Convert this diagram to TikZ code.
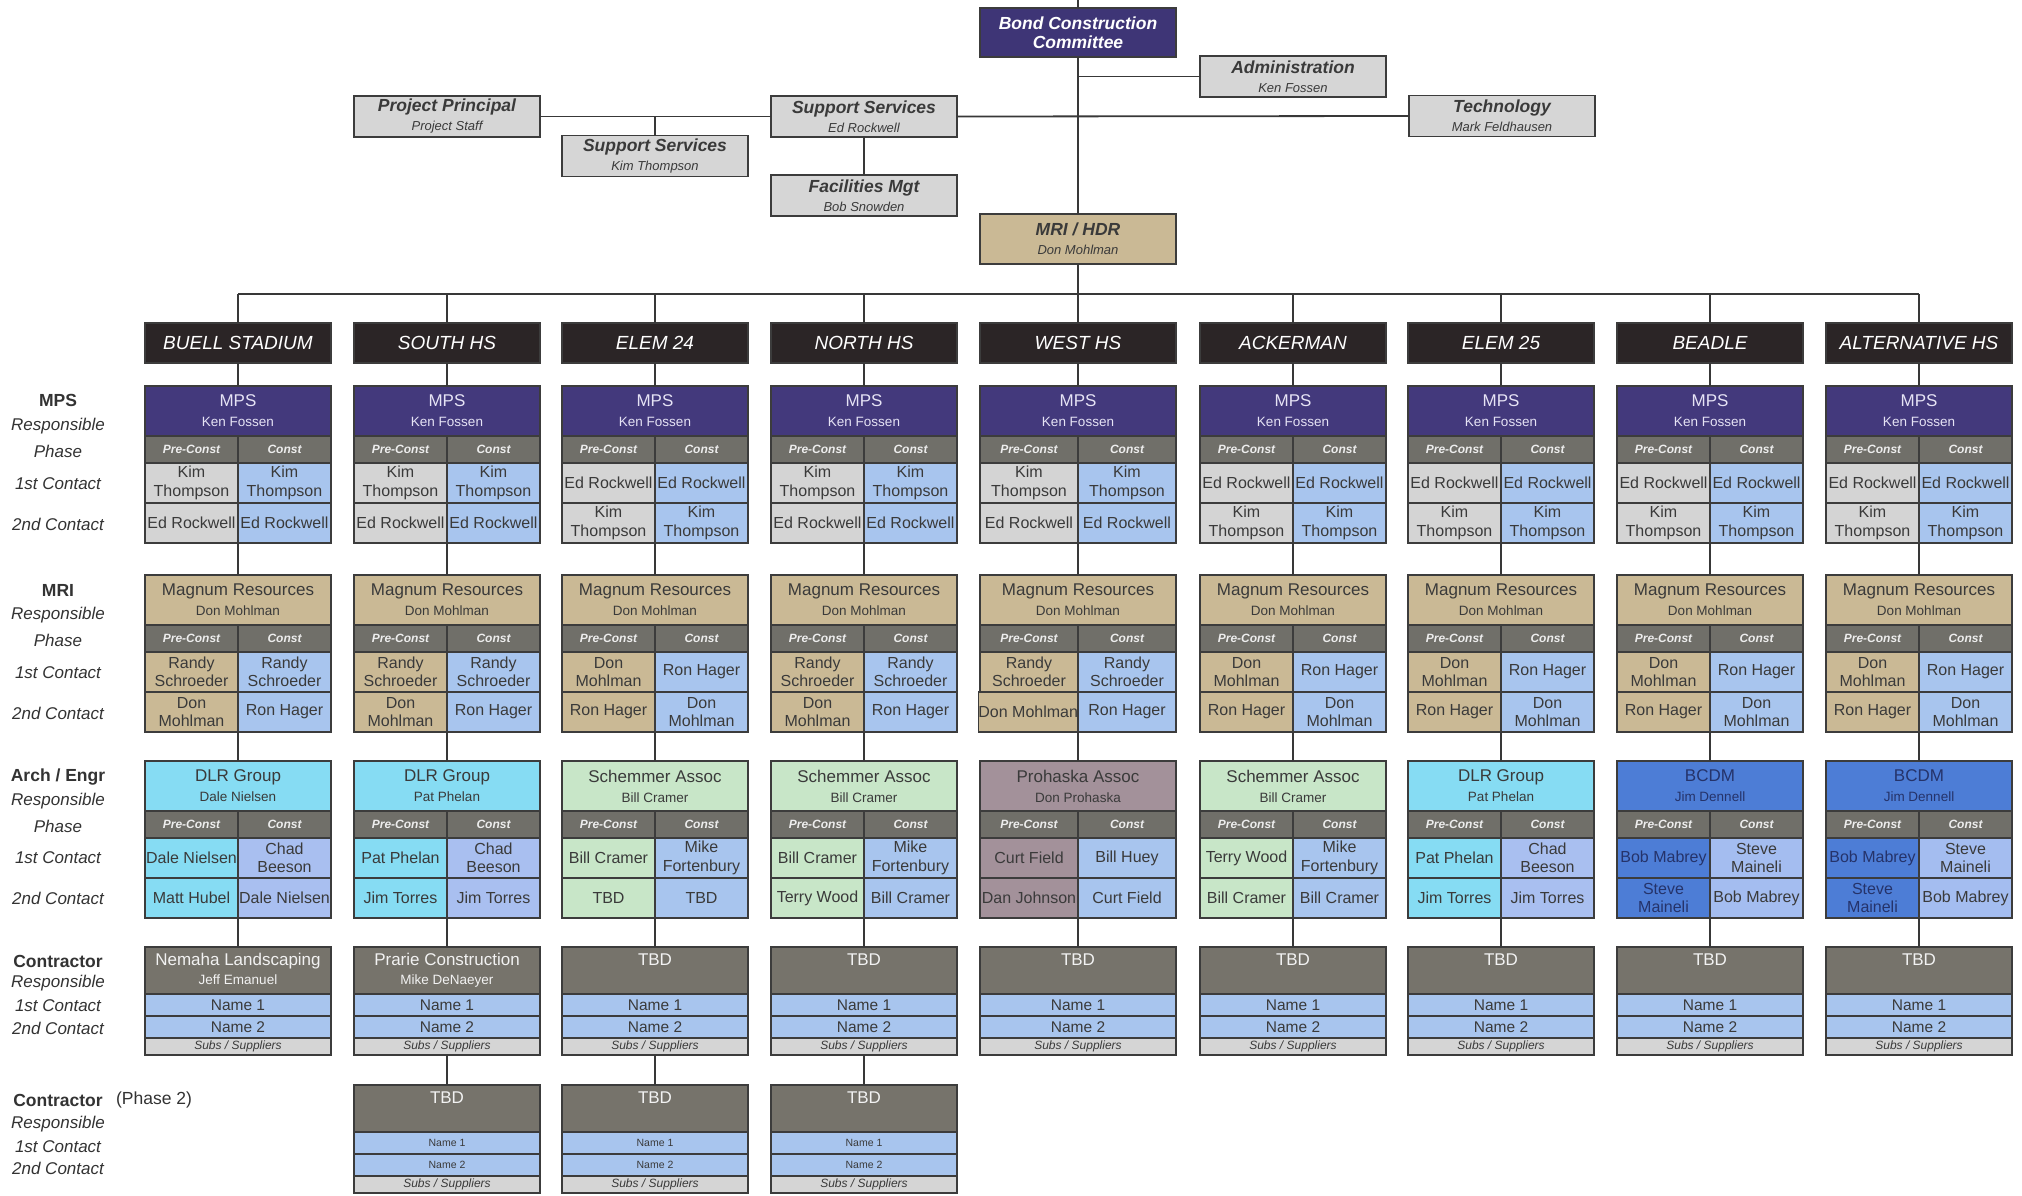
\documentclass[tikz,border=0pt]{standalone}
\usepackage{fontspec}
\setmainfont{Liberation Sans}
\usetikzlibrary{positioning}
\definecolor{CellLine}{HTML}{3C3C3C}
\definecolor{LinkGray}{HTML}{383838}
\definecolor{NameText}{HTML}{3A3A3A}
\definecolor{LabelText}{HTML}{333333}
\definecolor{TopText}{HTML}{3A3A3A}
\definecolor{BondPurple}{HTML}{3E3576}
\definecolor{MpsPurple}{HTML}{43397C}
\definecolor{MpsText}{HTML}{E6E3F5}
\definecolor{BoxGray}{HTML}{D6D6D6}
\definecolor{TanFill}{HTML}{CAB995}
\definecolor{HeaderBlack}{HTML}{2B2526}
\definecolor{PhaseGray}{HTML}{706F69}
\definecolor{PhaseText}{HTML}{EDEDED}
\definecolor{PreGray}{HTML}{D4D4D4}
\definecolor{ConstBlue}{HTML}{A8C5EE}
\definecolor{DlrCyan}{HTML}{86DCF3}
\definecolor{DlrConst}{HTML}{A9BFF0}
\definecolor{SchemGreen}{HTML}{C8E6C8}
\definecolor{ProhMauve}{HTML}{A3919A}
\definecolor{BcdmBlue}{HTML}{4D7DD6}
\definecolor{BcdmConst}{HTML}{A4BDF0}
\definecolor{BcdmText}{HTML}{25336A}
\definecolor{ConTitle}{HTML}{76736B}
\definecolor{ConText}{HTML}{F2F2F2}
\definecolor{SubsGray}{HTML}{D5D5D5}
\tikzset{
  link/.style={draw=LinkGray, line width=1.8pt},
  cell/.style={draw=CellLine, line width=1.5pt, inner sep=0pt, outer sep=0pt,
    align=center, text=NameText},
  titlecell/.style={cell, font=\fontsize{17}{20}\selectfont},
  phasecell/.style={cell, fill=PhaseGray, text=PhaseText, minimum height=27pt,
    font=\bfseries\itshape\fontsize{12}{14}\selectfont},
  namecell/.style={cell, minimum height=40pt, font=\fontsize{16}{18.5}\selectfont},
  hdr/.style={cell, fill=HeaderBlack, text=white, minimum height=40pt,
    font=\itshape\fontsize{19}{21}\selectfont},
  topbox/.style={cell, fill=BoxGray, text=TopText, minimum width=186pt, minimum height=41pt,
    font=\bfseries\itshape\fontsize{17.5}{19}\selectfont},
  mps title/.style={fill=MpsPurple, text=MpsText},
  mps pre/.style={fill=PreGray},
  mps const/.style={fill=ConstBlue},
  mri title/.style={fill=TanFill},
  mri pre/.style={fill=TanFill},
  mri const/.style={fill=ConstBlue},
  dlr title/.style={fill=DlrCyan},
  dlr pre/.style={fill=DlrCyan},
  dlr const/.style={fill=DlrConst},
  schem title/.style={fill=SchemGreen},
  schem pre/.style={fill=SchemGreen},
  schem const/.style={fill=ConstBlue},
  proh title/.style={fill=ProhMauve},
  proh pre/.style={fill=ProhMauve},
  proh const/.style={fill=ConstBlue},
  bcdm title/.style={fill=BcdmBlue, text=BcdmText},
  bcdm pre/.style={fill=BcdmBlue, text=BcdmText},
  bcdm const/.style={fill=BcdmConst},
  contitle/.style={cell, fill=ConTitle, text=ConText, minimum height=47pt,
    font=\fontsize{17}{19}\selectfont},
  namerow/.style={cell, fill=ConstBlue, minimum height=22pt, font=\fontsize{15.5}{17}\selectfont},
  small names/.style={font=\fontsize{10.5}{12}\selectfont},
  subsrow/.style={cell, fill=SubsGray, minimum height=17pt, font=\itshape\fontsize{12}{13}\selectfont},
  grouplabel/.style={inner sep=0pt, text=LabelText, font=\bfseries\fontsize{17.5}{20}\selectfont},
  rolelabel/.style={inner sep=0pt, text=LabelText, font=\itshape\fontsize{17}{20}\selectfont},
  notelabel/.style={inner sep=0pt, text=LabelText, font=\fontsize{17.5}{20}\selectfont}
}
\newcommand{\subline}[1]{{\fontsize{13.5}{20}\selectfont #1}}
\newcommand{\topsub}[1]{{\mdseries\fontsize{13}{19}\selectfont #1}}
% column centre, full width, half width
\newcommand{\setcol}[3]{\def\cx{#1}\def\cw{#2pt}\def\hw{#3pt}}
% name, top, kind, firm, person, pre 1st, const 1st, pre 2nd, const 2nd
\newcommand{\splitblock}[9]{%
  \node[titlecell, #3 title, minimum width=\cw, minimum height=50pt, anchor=north]
    (#1) at (\cx,#2) {#4\\\subline{#5}};
  \node[phasecell, minimum width=\hw, anchor=north east] (#1-p1) at (\cx,#2+50) {Pre-Const};
  \node[phasecell, minimum width=\hw, anchor=north west] (#1-p2) at (\cx,#2+50) {Const};
  \node[namecell, #3 pre, minimum width=\hw, anchor=north east] (#1-a1) at (\cx,#2+77) {#6};
  \node[namecell, #3 const, minimum width=\hw, anchor=north west] (#1-a2) at (\cx,#2+77) {#7};
  \node[namecell, #3 pre, minimum width=\hw, anchor=north east] (#1-b1) at (\cx,#2+117) {#8};
  \node[namecell, #3 const, minimum width=\hw, anchor=north west] (#1-b2) at (\cx,#2+117) {#9};
}
% name, top, firm, person, name row style
\newcommand{\conblock}[5]{%
  \node[contitle, minimum width=\cw, anchor=north] (#1) at (\cx,#2) {#3\\\subline{#4\vphantom{Ay}}};
  \node[namerow, #5, minimum width=\cw, anchor=north] (#1-n1) at (\cx,#2+47) {Name 1};
  \node[namerow, #5, minimum width=\cw, anchor=north] (#1-n2) at (\cx,#2+69) {Name 2};
  \node[subsrow, minimum width=\cw, anchor=north] (#1-s) at (\cx,#2+91) {Subs / Suppliers};
}

\begin{document}
\begin{tikzpicture}[x=1pt, y=-1pt]
  \fill[white] (0,0) rectangle (2022,1195);
  \useasboundingbox (0,0) rectangle (2022,1195);
  \coordinate (topend) at (1078,0);
  \coordinate (bus) at (0,294);

  % committee and support staff
  \node[topbox, fill=BondPurple, text=white, minimum width=196pt, minimum height=49pt]
    (bond) at (1078,32.5) {Bond Construction\\Committee};
  \node[topbox] (admin) at (1293,76.5) {Administration\\\topsub{Ken Fossen}};
  \node[topbox] (prjprin) at (447,116.5) {Project Principal\\\topsub{Project Staff}};
  \node[topbox] (suped) at (864,116.5) {Support Services\\\topsub{Ed Rockwell}};
  \node[topbox] (tech) at (1502,116) {Technology\\\topsub{Mark Feldhausen}};
  \node[topbox] (supkim) at (655,156) {Support Services\\\topsub{Kim Thompson}};
  \node[topbox] (facil) at (864,195.5) {Facilities Mgt\\\topsub{Bob Snowden}};
  \node[topbox, fill=TanFill, minimum width=196pt, minimum height=50pt]
    (mrihdr) at (1078,239) {MRI / HDR\\\topsub{Don Mohlman}};

  \draw[link] (topend) -- (bond);
  \draw[link] (bond) -- (mrihdr);
  \draw[link] (bond.south |- admin.west) -- (admin.west);
  \draw[link] (prjprin.east) -- (suped.west);
  \draw[link] (suped.east) -- (tech.west);
  \draw[link] (supkim.north |- prjprin.east) -- (supkim);
  \draw[link] (suped) -- (facil);

  % row captions
  \node[grouplabel] (lblmps) at (58,400) {MPS};
  \node[rolelabel] (lblmps-r) at (58,426) {Responsible};
  \node[rolelabel] (lblmps-p) at (58,451) {Phase};
  \node[rolelabel] (lblmps-1) at (58,484) {1st Contact};
  \node[rolelabel] (lblmps-2) at (58,524) {2nd Contact};
  \node[grouplabel] (lblmri) at (58,590) {MRI};
  \node[rolelabel] (lblmri-r) at (58,615) {Responsible};
  \node[rolelabel] (lblmri-p) at (58,640) {Phase};
  \node[rolelabel] (lblmri-1) at (58,673) {1st Contact};
  \node[rolelabel] (lblmri-2) at (58,713) {2nd Contact};
  \node[grouplabel] (lblae) at (58,777) {Arch / Engr};
  \node[rolelabel] (lblae-r) at (58,801) {Responsible};
  \node[rolelabel] (lblae-p) at (58,826) {Phase};
  \node[rolelabel] (lblae-1) at (58,858) {1st Contact};
  \node[rolelabel] (lblae-2) at (58,898) {2nd Contact};
  \node[grouplabel] (lblcon) at (58,961) {Contractor};
  \node[rolelabel] (lblcon-r) at (58,983) {Responsible};
  \node[rolelabel] (lblcon-1) at (58,1006) {1st Contact};
  \node[rolelabel] (lblcon-2) at (58,1028) {2nd Contact};
  \node[grouplabel] (lblph) at (58,1100) {Contractor};
  \node[notelabel, right=13pt of lblph] (lblph-n) {(Phase 2)};
  \node[rolelabel] (lblph-r) at (58,1124) {Responsible};
  \node[rolelabel] (lblph-1) at (58,1147) {1st Contact};
  \node[rolelabel] (lblph-2) at (58,1168) {2nd Contact};

  % Buell Stadium
  \setcol{238}{186}{93}
  \node[hdr, minimum width=\cw] (hdr1) at (\cx,343) {BUELL STADIUM};
  \splitblock{mps1}{386}{mps}{MPS}{Ken Fossen}{Kim\\Thompson}{Kim\\Thompson}{Ed Rockwell}{Ed Rockwell}
  \splitblock{mri1}{575}{mri}{Magnum Resources}{Don Mohlman}{Randy\\Schroeder}{Randy\\Schroeder}{Don\\Mohlman}{Ron Hager}
  \splitblock{ae1}{761}{dlr}{DLR Group}{Dale Nielsen}{Dale Nielsen}{Chad\\Beeson}{Matt Hubel}{Dale Nielsen}
  \conblock{con1}{947}{Nemaha Landscaping}{Jeff Emanuel}{}

  % South HS
  \setcol{447}{186}{93}
  \node[hdr, minimum width=\cw] (hdr2) at (\cx,343) {SOUTH HS};
  \splitblock{mps2}{386}{mps}{MPS}{Ken Fossen}{Kim\\Thompson}{Kim\\Thompson}{Ed Rockwell}{Ed Rockwell}
  \splitblock{mri2}{575}{mri}{Magnum Resources}{Don Mohlman}{Randy\\Schroeder}{Randy\\Schroeder}{Don\\Mohlman}{Ron Hager}
  \splitblock{ae2}{761}{dlr}{DLR Group}{Pat Phelan}{Pat Phelan}{Chad\\Beeson}{Jim Torres}{Jim Torres}
  \conblock{con2}{947}{Prarie Construction}{Mike DeNaeyer}{}
  \conblock{ph2}{1085}{TBD}{}{small names}

  % Elem 24
  \setcol{655}{186}{93}
  \node[hdr, minimum width=\cw] (hdr3) at (\cx,343) {ELEM 24};
  \splitblock{mps3}{386}{mps}{MPS}{Ken Fossen}{Ed Rockwell}{Ed Rockwell}{Kim\\Thompson}{Kim\\Thompson}
  \splitblock{mri3}{575}{mri}{Magnum Resources}{Don Mohlman}{Don\\Mohlman}{Ron Hager}{Ron Hager}{Don\\Mohlman}
  \splitblock{ae3}{761}{schem}{Schemmer Assoc}{Bill Cramer}{Bill Cramer}{Mike\\Fortenbury}{TBD}{TBD}
  \conblock{con3}{947}{TBD}{}{}
  \conblock{ph3}{1085}{TBD}{}{small names}

  % North HS
  \setcol{864}{186}{93}
  \node[hdr, minimum width=\cw] (hdr4) at (\cx,343) {NORTH HS};
  \splitblock{mps4}{386}{mps}{MPS}{Ken Fossen}{Kim\\Thompson}{Kim\\Thompson}{Ed Rockwell}{Ed Rockwell}
  \splitblock{mri4}{575}{mri}{Magnum Resources}{Don Mohlman}{Randy\\Schroeder}{Randy\\Schroeder}{Don\\Mohlman}{Ron Hager}
  \splitblock{ae4}{761}{schem}{Schemmer Assoc}{Bill Cramer}{Bill Cramer}{Mike\\Fortenbury}{Terry Wood}{Bill Cramer}
  \conblock{con4}{947}{TBD}{}{}
  \conblock{ph4}{1085}{TBD}{}{small names}

  % West HS
  \setcol{1078}{196}{98}
  \node[hdr, minimum width=\cw] (hdr5) at (\cx,343) {WEST HS};
  \splitblock{mps5}{386}{mps}{MPS}{Ken Fossen}{Kim\\Thompson}{Kim\\Thompson}{Ed Rockwell}{Ed Rockwell}
  \splitblock{mri5}{575}{mri}{Magnum Resources}{Don Mohlman}{Randy\\Schroeder}{Randy\\Schroeder}{Don Mohlman}{Ron Hager}
  \splitblock{ae5}{761}{proh}{Prohaska Assoc}{Don Prohaska}{Curt Field}{Bill Huey}{Dan Johnson}{Curt Field}
  \conblock{con5}{947}{TBD}{}{}

  % Ackerman
  \setcol{1293}{186}{93}
  \node[hdr, minimum width=\cw] (hdr6) at (\cx,343) {ACKERMAN};
  \splitblock{mps6}{386}{mps}{MPS}{Ken Fossen}{Ed Rockwell}{Ed Rockwell}{Kim\\Thompson}{Kim\\Thompson}
  \splitblock{mri6}{575}{mri}{Magnum Resources}{Don Mohlman}{Don\\Mohlman}{Ron Hager}{Ron Hager}{Don\\Mohlman}
  \splitblock{ae6}{761}{schem}{Schemmer Assoc}{Bill Cramer}{Terry Wood}{Mike\\Fortenbury}{Bill Cramer}{Bill Cramer}
  \conblock{con6}{947}{TBD}{}{}

  % Elem 25
  \setcol{1501}{186}{93}
  \node[hdr, minimum width=\cw] (hdr7) at (\cx,343) {ELEM 25};
  \splitblock{mps7}{386}{mps}{MPS}{Ken Fossen}{Ed Rockwell}{Ed Rockwell}{Kim\\Thompson}{Kim\\Thompson}
  \splitblock{mri7}{575}{mri}{Magnum Resources}{Don Mohlman}{Don\\Mohlman}{Ron Hager}{Ron Hager}{Don\\Mohlman}
  \splitblock{ae7}{761}{dlr}{DLR Group}{Pat Phelan}{Pat Phelan}{Chad\\Beeson}{Jim Torres}{Jim Torres}
  \conblock{con7}{947}{TBD}{}{}

  % Beadle
  \setcol{1710}{186}{93}
  \node[hdr, minimum width=\cw] (hdr8) at (\cx,343) {BEADLE};
  \splitblock{mps8}{386}{mps}{MPS}{Ken Fossen}{Ed Rockwell}{Ed Rockwell}{Kim\\Thompson}{Kim\\Thompson}
  \splitblock{mri8}{575}{mri}{Magnum Resources}{Don Mohlman}{Don\\Mohlman}{Ron Hager}{Ron Hager}{Don\\Mohlman}
  \splitblock{ae8}{761}{bcdm}{BCDM}{Jim Dennell}{Bob Mabrey}{Steve\\Maineli}{Steve\\Maineli}{Bob Mabrey}
  \conblock{con8}{947}{TBD}{}{}

  % Alternative HS
  \setcol{1919}{186}{93}
  \node[hdr, minimum width=\cw] (hdr9) at (\cx,343) {ALTERNATIVE HS};
  \splitblock{mps9}{386}{mps}{MPS}{Ken Fossen}{Ed Rockwell}{Ed Rockwell}{Kim\\Thompson}{Kim\\Thompson}
  \splitblock{mri9}{575}{mri}{Magnum Resources}{Don Mohlman}{Don\\Mohlman}{Ron Hager}{Ron Hager}{Don\\Mohlman}
  \splitblock{ae9}{761}{bcdm}{BCDM}{Jim Dennell}{Bob Mabrey}{Steve\\Maineli}{Steve\\Maineli}{Bob Mabrey}
  \conblock{con9}{947}{TBD}{}{}

  % bus and drops
  \draw[link] (mrihdr.south) -- (mrihdr.south |- bus);
  \draw[link] (hdr1.north |- bus) -- (hdr9.north |- bus);
  \foreach \i in {1,...,9} {
    \draw[link] (hdr\i.north |- bus) -- (hdr\i.north);
    \draw[link] (hdr\i) -- (mps\i);
    \draw[link] (mps\i-b1.south east) -- (mri\i);
    \draw[link] (mri\i-b1.south east) -- (ae\i);
    \draw[link] (ae\i-b1.south east) -- (con\i);
  }
  \foreach \i in {2,3,4}
    \draw[link] (con\i-s) -- (ph\i);
\end{tikzpicture}
\end{document}
